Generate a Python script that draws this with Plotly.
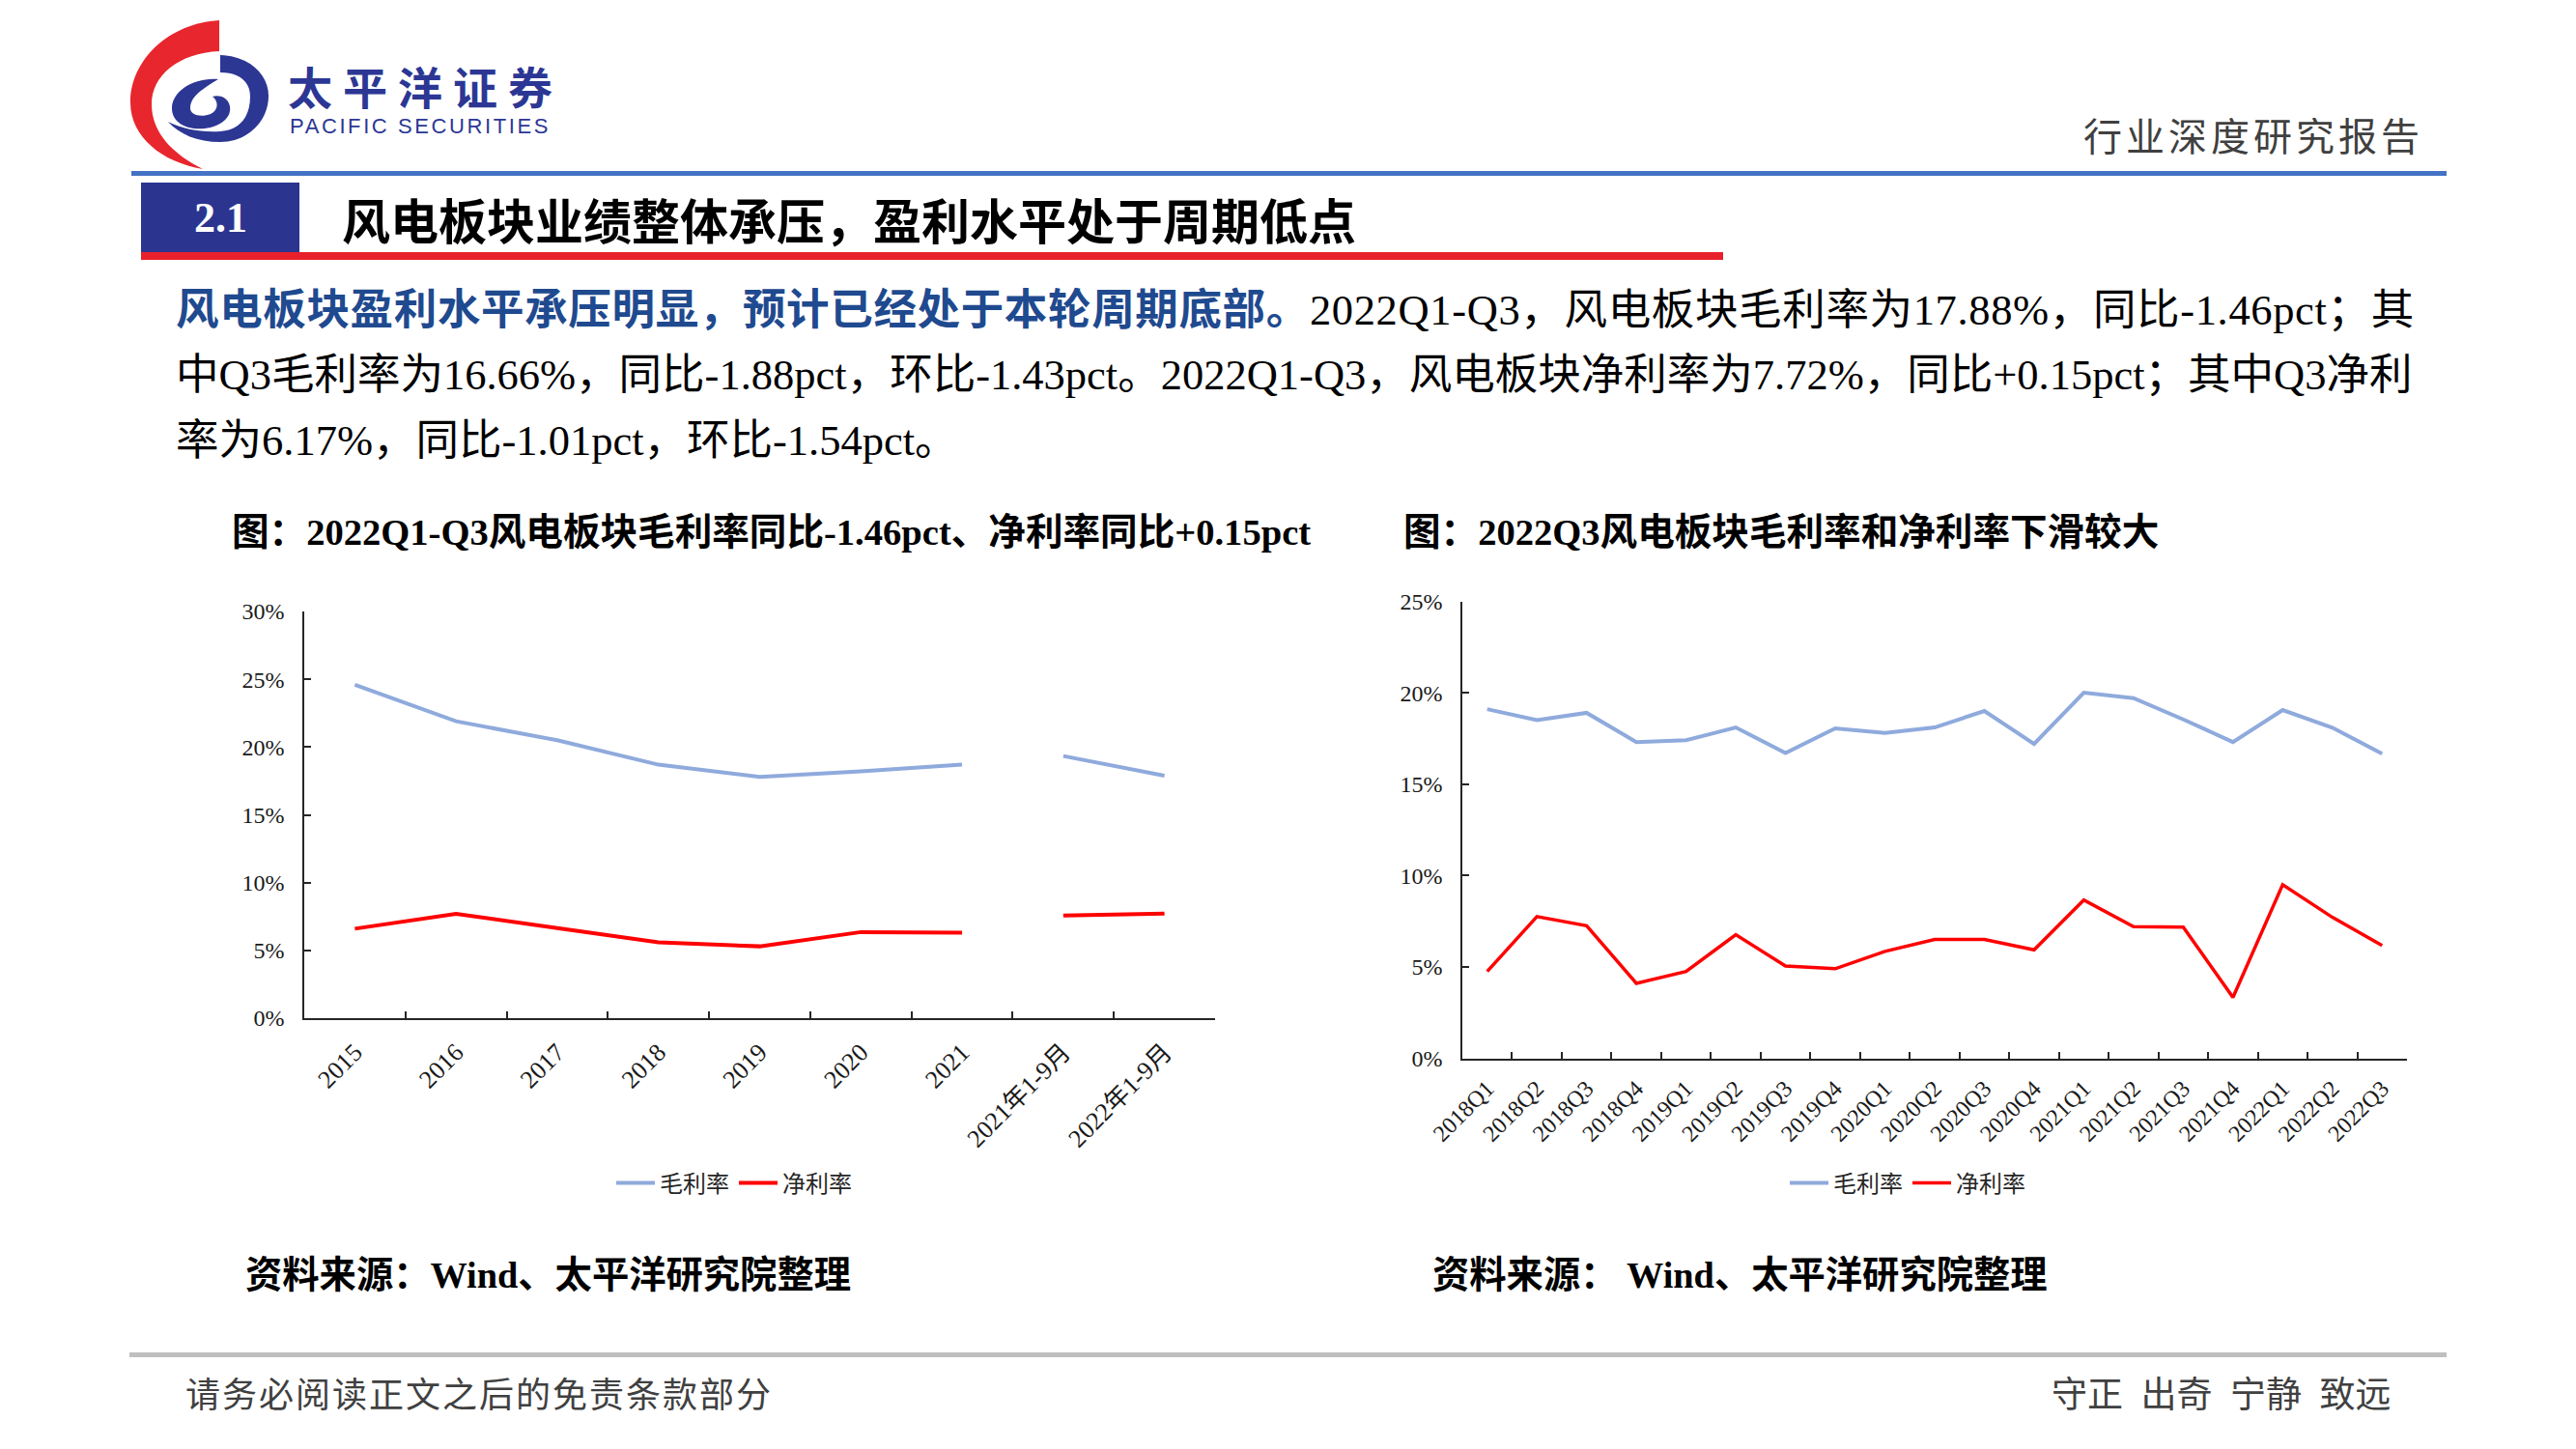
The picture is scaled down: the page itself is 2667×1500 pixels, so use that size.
import plotly.graph_objects as go

W, H = 2667, 1500

# ---------------- data ----------------
annual_cats = ["2015", "2016", "2017", "2018", "2019", "2020", "2021"]
annual_gross = [24.6, 21.9, 20.5, 18.7, 17.8, 18.2, 18.7]
annual_net = [6.6, 7.7, 6.65, 5.6, 5.3, 6.35, 6.3]
ytd_cats = ["2021年1-9月", "2022年1-9月"]
ytd_gross = [19.34, 17.88]
ytd_net = [7.57, 7.72]

quarters = ["2018Q1", "2018Q2", "2018Q3", "2018Q4", "2019Q1", "2019Q2", "2019Q3", "2019Q4",
            "2020Q1", "2020Q2", "2020Q3", "2020Q4", "2021Q1", "2021Q2", "2021Q3", "2021Q4",
            "2022Q1", "2022Q2", "2022Q3"]
q_gross = [19.1, 18.5, 18.9, 17.3, 17.4, 18.1, 16.7, 18.05, 17.8, 18.1, 19.0, 17.2,
           20.0, 19.7, 18.54, 17.3, 19.05, 18.09, 16.66]
q_net = [4.75, 7.75, 7.25, 4.1, 4.75, 6.76, 5.05, 4.9, 5.85, 6.5, 6.5, 5.93,
         8.66, 7.2, 7.18, 3.33, 9.5, 7.71, 6.17]

series_names = ["毛利率", "净利率"]
BLUE = "#8FAADC"
RED = "#FF0000"

# ---------------- helpers ----------------
def X(px):
    return px / W

def Y(py):
    return 1 - py / H

def path(cmds):
    out = []
    for c, pts in cmds:
        s = " ".join(f"{X(x):.5f},{Y(y):.5f}" for x, y in pts)
        out.append(f"{c} {s}" if pts else c)
    return " ".join(out)

SERIF = "Liberation Serif, Noto Sans CJK SC"
CJK = "Noto Sans CJK SC"

fig = go.Figure()

# left chart
fig.add_trace(go.Scatter(x=annual_cats, y=annual_gross, mode="lines", name=series_names[0],
                         line=dict(color=BLUE, width=4), xaxis="x", yaxis="y",
                         legend="legend", legendgroup="g1"))
fig.add_trace(go.Scatter(x=ytd_cats, y=ytd_gross, mode="lines", name=series_names[0],
                         line=dict(color=BLUE, width=4), xaxis="x", yaxis="y",
                         legend="legend", legendgroup="g1", showlegend=False))
fig.add_trace(go.Scatter(x=annual_cats, y=annual_net, mode="lines", name=series_names[1],
                         line=dict(color=RED, width=4), xaxis="x", yaxis="y",
                         legend="legend", legendgroup="n1"))
fig.add_trace(go.Scatter(x=ytd_cats, y=ytd_net, mode="lines", name=series_names[1],
                         line=dict(color=RED, width=4), xaxis="x", yaxis="y",
                         legend="legend", legendgroup="n1", showlegend=False))

# right chart
fig.add_trace(go.Scatter(x=quarters, y=q_gross, mode="lines", name=series_names[0],
                         line=dict(color=BLUE, width=4), xaxis="x2", yaxis="y2",
                         legend="legend2"))
fig.add_trace(go.Scatter(x=quarters, y=q_net, mode="lines", name=series_names[1],
                         line=dict(color=RED, width=3.5), xaxis="x2", yaxis="y2",
                         legend="legend2"))

axis_common = dict(showline=True, linecolor="#262626", linewidth=1.5, showgrid=False,
                   zeroline=False, ticks="inside", tickcolor="#262626", tickwidth=1.5,
                   fixedrange=True, automargin=False)

legend_font = dict(family="Noto Sans CJK SC", size=24, color="#262626")

fig.update_layout(
    template="none",
    width=W, height=H, margin=dict(l=0, r=0, t=0, b=0, pad=0, autoexpand=False),
    paper_bgcolor="white", plot_bgcolor="white",
    xaxis=dict(domain=[X(315), X(1258)], anchor="y", type="category",
               categoryorder="array", categoryarray=annual_cats + ytd_cats,
               range=[-0.5, 8.5], tickson="boundaries", ticklen=7, tickangle=-45,
               ticklabelstandoff=8,
               tickfont=dict(family=SERIF, size=26, color="#1a1a1a"), **axis_common),
    yaxis=dict(domain=[Y(1054), Y(633)], anchor="x", range=[0, 30], dtick=5,
               ticksuffix="%", ticklen=7, ticklabelstandoff=14,
               tickfont=dict(family=SERIF, size=24, color="#1a1a1a"), **axis_common),
    xaxis2=dict(domain=[X(1514), X(2492)], anchor="y2", type="category",
                categoryorder="array", categoryarray=quarters,
                range=[-0.5, 18.5], tickson="boundaries", ticklen=7, tickangle=-45,
                ticklabelstandoff=6,
                tickfont=dict(family=SERIF, size=24, color="#1a1a1a"), **axis_common),
    yaxis2=dict(domain=[Y(1095.5), Y(622.5)], anchor="x2", range=[0, 25], dtick=5,
                ticksuffix="%", ticklen=7, ticklabelstandoff=14,
                tickfont=dict(family=SERIF, size=24, color="#1a1a1a"), **axis_common),
    legend=dict(orientation="h", x=X(760), y=Y(1225), xanchor="center", yanchor="middle",
                font=legend_font, bgcolor="rgba(0,0,0,0)", borderwidth=0, itemwidth=40),
    legend2=dict(orientation="h", x=X(1975), y=Y(1225), xanchor="center", yanchor="middle",
                 font=legend_font, bgcolor="rgba(0,0,0,0)", borderwidth=0, itemwidth=40),
    showlegend=True,
)

# ---------------- decorative shapes ----------------
shapes = []
def rect(x0, y0, x1, y1, color):
    shapes.append(dict(type="rect", xref="paper", yref="paper", x0=X(x0), x1=X(x1),
                       y0=Y(y1), y1=Y(y0), fillcolor=color, line=dict(width=0), layer="above"))

def ppath(cmds, color):
    shapes.append(dict(type="path", xref="paper", yref="paper", path=path(cmds),
                       fillcolor=color, line=dict(width=0), layer="above"))

LOGO_BLUE = "#2C3794"
LOGO_RED = "#E8262D"

# blue outer ring
ppath([("M", [(228, 57)]),
       ("C", [(258, 58), (278, 77), (278, 99)]),
       ("C", [(278, 126), (256, 147), (228, 147)]),
       ("C", [(204, 147), (186, 139), (174, 126)]),
       ("C", [(190, 134), (208, 137), (228, 136)]),
       ("C", [(249, 135), (259, 120), (259, 100)]),
       ("C", [(259, 84), (247, 75), (228, 75)]),
       ("Z", [])], LOGO_BLUE)
# inner swirl
ppath([("M", [(226, 82)]),
       ("C", [(200, 80), (178, 95), (178, 112)]),
       ("C", [(178, 128), (195, 135), (212, 133)]),
       ("C", [(228, 131), (240, 122), (238, 110)]),
       ("C", [(236, 100), (226, 98), (220, 100)]),
       ("C", [(226, 104), (227, 114), (218, 118)]),
       ("C", [(208, 122), (196, 119), (197, 111)]),
       ("C", [(198, 99), (210, 92), (226, 82)]),
       ("Z", [])], LOGO_BLUE)
# red crescent
ppath([("M", [(227, 21)]),
       ("C", [(175, 24), (135, 62), (135, 106)]),
       ("C", [(135, 142), (168, 168), (210, 175)]),
       ("C", [(180, 160), (157, 138), (157, 108)]),
       ("C", [(157, 78), (185, 55), (227, 53)]),
       ("Z", [])], LOGO_RED)

rect(136, 177, 2533, 182, "#4472C4")      # header blue line
rect(146, 189, 310, 262, "#2B3590")       # section box
rect(146, 261, 1784, 269, "#E8202A")      # red underline
rect(134, 1400, 2533, 1405, "#BFBFBF")    # footer grey line

fig.update_layout(shapes=shapes)

# ---------------- text ----------------
ann = []
def text(x, y, s, size, color="#000000", family=SERIF, anchor="left"):
    ann.append(dict(x=X(x), y=Y(y), xref="paper", yref="paper", text=s, showarrow=False,
                    xanchor=anchor, yanchor="middle", align=anchor,
                    font=dict(family=family, size=size, color=color)))

def spaced(s, px):
    return f"<span style='letter-spacing:{px}px'>{s}</span>"

text(296, 88, "<b>" + spaced("太平洋证券", 11) + "</b>", 46, LOGO_BLUE, CJK)
text(298, 130, spaced("PACIFIC SECURITIES", 2.6), 22, LOGO_BLUE, "Liberation Sans")
text(2511, 139, spaced("行业深度研究报告", 4), 40, "#404040", CJK, anchor="right")
text(228, 225, "<b>2.1</b>", 44, "#FFFFFF", SERIF, anchor="center")
text(352, 226, "<b>风电板块业绩整体承压，盈利水平处于周期低点</b>", 50, "#000000", CJK)

text(180, 321, spaced("<b><span style='color:#1F4A8F'>风电板块盈利水平承压明显，预计已经处于本轮周期底部。</span></b>"
                      "2022Q1-Q3，风电板块毛利率为17.88%，同比-1.46pct；其", 0.65), 44.5)
text(180, 388, "中Q3毛利率为16.66%，同比-1.88pct，环比-1.43pct。2022Q1-Q3，风电板块净利率为7.72%，"
               "同比+0.15pct；其中Q3净利", 44.5)
text(180, 456, "率为6.17%，同比-1.01pct，环比-1.54pct。", 44.5)

text(238, 551, "<b>图：2022Q1-Q3风电板块毛利率同比-1.46pct、净利率同比+0.15pct</b>", 38.6)
text(1451, 551, "<b>图：2022Q3风电板块毛利率和净利率下滑较大</b>", 38.6)

text(252, 1320, "<b>资料来源：Wind、太平洋研究院整理</b>", 38.3)
text(1481, 1320, "<b>资料来源： Wind、太平洋研究院整理</b>", 38.3)

text(190, 1441, spaced("请务必阅读正文之后的免责条款部分", 2), 36, "#404040", CJK)
text(2478, 1441, "守正\u2002出奇\u2002宁静\u2002致远", 37, "#404040", CJK, anchor="right")

fig.update_layout(annotations=ann)

fig.write_html("out.html", config={"displayModeBar": False, "responsive": False},
               post_script="document.body.style.margin='0';document.body.style.overflow='hidden';")
